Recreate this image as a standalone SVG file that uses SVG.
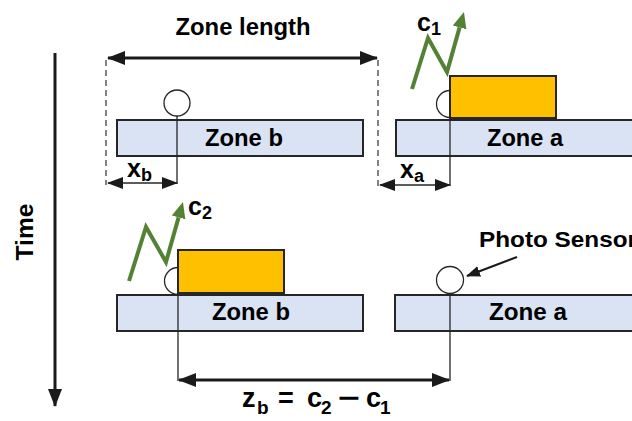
<svg xmlns="http://www.w3.org/2000/svg" width="632" height="421" viewBox="0 0 632 421">
<defs>
<style>
text{font-family:"Liberation Sans",Arial,sans-serif;font-weight:bold;fill:#000}
.zone{fill:#DAE3F3;stroke:#262626;stroke-width:2}
.box{fill:#FFC000;stroke:#262626;stroke-width:2}
.sens{fill:#fff;stroke:#262626;stroke-width:1.3}
.thin{stroke:#262626;stroke-width:1.3;fill:none}
.dash{stroke:#404040;stroke-width:1.3;stroke-dasharray:6 4;fill:none}
.thick{stroke:#1a1a1a;stroke-width:3;fill:none}
.green{stroke:#548235;stroke-width:4;fill:none;stroke-linejoin:miter}
.lbl{font-size:23px;text-anchor:middle}
</style>
<marker id="ah" markerUnits="userSpaceOnUse" markerWidth="18" markerHeight="14" refX="17" refY="7" orient="auto-start-reverse" viewBox="0 0 18 14">
<path d="M0,0 L18,7 L0,14 z" fill="#1a1a1a"/>
</marker>
<marker id="ahs" markerUnits="userSpaceOnUse" markerWidth="16" markerHeight="12" refX="15" refY="6" orient="auto-start-reverse" viewBox="0 0 16 12">
<path d="M0,0 L16,6 L0,12 z" fill="#1a1a1a"/>
</marker>
<marker id="ahp" markerUnits="userSpaceOnUse" markerWidth="14" markerHeight="11" refX="13" refY="5.5" orient="auto" viewBox="0 0 14 11">
<path d="M0,0 L14,5.5 L0,11 z" fill="#1a1a1a"/>
</marker>
<marker id="ahg" markerUnits="userSpaceOnUse" markerWidth="16" markerHeight="14" refX="0" refY="7" orient="auto" viewBox="0 0 16 14">
<path d="M0,0 L16,7 L0,14 z" fill="#548235"/>
</marker>
</defs>

<g id="time">
<line class="thick" x1="55" y1="53" x2="55" y2="406" marker-end="url(#ah)"/>
<text class="lbl" transform="translate(33,232) rotate(-90)" textLength="57" lengthAdjust="spacingAndGlyphs">Time</text>
</g>

<g id="zone-b-top">
<rect class="zone" x="117" y="120" width="246" height="36"/>
<circle class="sens" cx="177" cy="103" r="13"/>
<text class="lbl" x="244" y="146" textLength="78" lengthAdjust="spacingAndGlyphs">Zone b</text>
</g>

<g id="zone-a-top">
<rect class="zone" x="396" y="120" width="250" height="36"/>
<circle class="sens" cx="450" cy="104" r="13.5"/>
<rect class="box" x="450" y="76" width="106" height="42"/>
<text class="lbl" x="525" y="146" textLength="76" lengthAdjust="spacingAndGlyphs">Zone a</text>
</g>

<g id="zone-b-bottom">
<rect class="zone" x="117" y="295" width="246" height="36"/>
<circle class="sens" cx="178" cy="281" r="13.5"/>
<rect class="box" x="178" y="250" width="106" height="43"/>
<text class="lbl" x="251" y="320" textLength="78" lengthAdjust="spacingAndGlyphs">Zone b</text>
</g>

<g id="zone-a-bottom">
<rect class="zone" x="395" y="295" width="250" height="36"/>
<circle class="sens" cx="450" cy="280" r="13.5"/>
<text class="lbl" x="528" y="320" textLength="78" lengthAdjust="spacingAndGlyphs">Zone a</text>
</g>

<g id="labels">
<text class="lbl" x="243" y="35" textLength="135" lengthAdjust="spacingAndGlyphs">Zone length</text>
<text x="127" y="177" font-size="25">x<tspan font-size="18" dy="4">b</tspan></text>
<text x="400" y="178" font-size="25">x<tspan font-size="18" dy="4">a</tspan></text>
<text x="417" y="31" font-size="25">c<tspan font-size="18" dy="4">1</tspan></text>
<text x="188" y="215" font-size="25">c<tspan font-size="18" dy="4">2</tspan></text>
<text x="479" y="247" font-size="22" textLength="158" lengthAdjust="spacingAndGlyphs">Photo Sensor</text>
<text y="407" font-size="27"><tspan x="242">z</tspan><tspan x="257" font-size="19" dy="7">b</tspan><tspan x="278" dy="-7">=</tspan><tspan x="307">c</tspan><tspan x="321" font-size="19" dy="7">2</tspan><tspan x="338" dy="-7" textLength="22" lengthAdjust="spacingAndGlyphs">−</tspan><tspan x="366">c</tspan><tspan x="380" font-size="19" dy="7">1</tspan></text>
</g>

<g id="connectors">
<line class="dash" x1="106" y1="60" x2="106" y2="185"/>
<line class="dash" x1="378" y1="60" x2="378" y2="186"/>
<line class="thick" x1="108" y1="58" x2="377" y2="58" marker-start="url(#ah)" marker-end="url(#ah)"/>
<line class="thin" x1="177" y1="116" x2="177" y2="184"/>
<line class="thin" x1="450" y1="118" x2="450" y2="186"/>
<line class="thin" x1="108" y1="183" x2="177" y2="183" stroke-width="2" marker-start="url(#ahs)" marker-end="url(#ahs)"/>
<line class="thin" x1="380" y1="185" x2="450" y2="185" stroke-width="2" marker-start="url(#ahs)" marker-end="url(#ahs)"/>
<line class="thin" x1="178" y1="293" x2="178" y2="381"/>
<line class="thin" x1="450" y1="293" x2="450" y2="381"/>
<line class="thick" x1="179" y1="380" x2="449" y2="380" marker-start="url(#ah)" marker-end="url(#ah)"/>
<line x1="517" y1="257" x2="467" y2="276" stroke="#1a1a1a" stroke-width="2" marker-end="url(#ahp)"/>
<polyline class="green" points="412,89 428,38 447,72 459.6,27.4" marker-end="url(#ahg)"/>
<polyline class="green" points="129,281 146,227 166,262 178.6,217.4" marker-end="url(#ahg)"/>
</g>
</svg>
